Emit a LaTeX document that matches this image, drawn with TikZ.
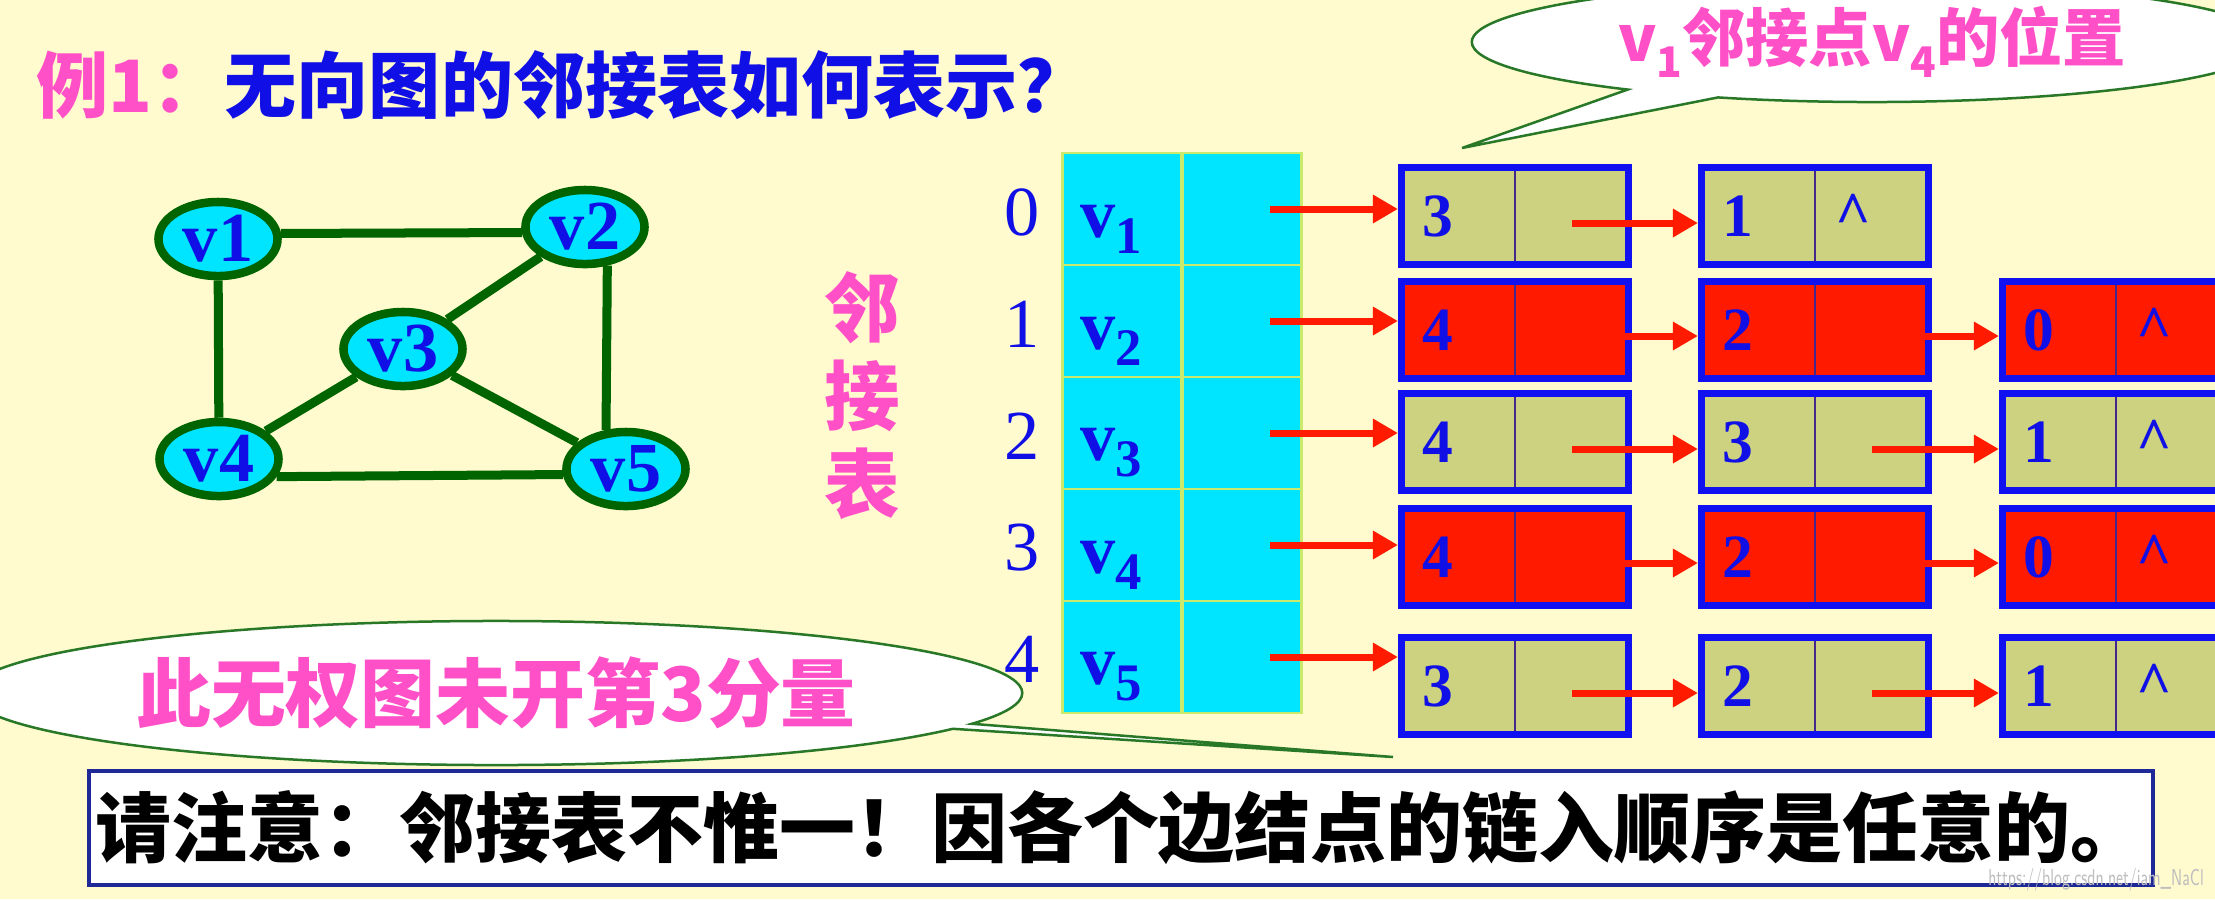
\documentclass[tikz,border=0pt]{standalone}
\usepackage{fontspec}
\setmainfont{Liberation Serif}
\newfontfamily\cjk{Noto Sans CJK SC}
\usetikzlibrary{arrows.meta,shapes.geometric,shapes.callouts,calc}

\definecolor{bgyellow}{RGB}{255,251,206}
\definecolor{cellcyan}{RGB}{0,229,255}
\definecolor{khaki}{RGB}{204,210,128}
\definecolor{hotred}{RGB}{255,26,0}
\definecolor{txtblue}{RGB}{16,16,230}
\definecolor{boxblue}{RGB}{16,16,240}
\definecolor{darkgreen}{RGB}{0,100,0}
\definecolor{notepink}{RGB}{255,80,200}
\definecolor{linegreen}{RGB}{40,120,40}
\definecolor{navy}{RGB}{30,40,150}
\definecolor{tabline}{RGB}{200,235,110}
\definecolor{divcolor}{RGB}{70,40,140}
\definecolor{markgray}{RGB}{190,190,190}

\newcommand{\vsub}[1]{v\raisebox{-0.5ex}{\fontsize{15}{15}\selectfont #1}}
\newcommand{\psub}[1]{v\raisebox{-0.45ex}{\fontsize{12}{12}\selectfont #1}}
\newcommand{\listnode}[5]{%
  \node[lbox, fill=#4] (#1) at (#2,#3) {};
  \draw[divline] (#1.north) -- (#1.south);
  \node[numtxt] (#1n) at ([xshift=-0.77cm]#1.center) {#5};}
\newcommand{\nullptr}[1]{%
  \node[numtxt] (#1e) at ([xshift=0.38cm,yshift=0.02cm]#1.center) {\textasciicircum};}

\begin{document}
\begin{tikzpicture}[x=0.01cm,y=-0.01cm]
  \tikzset{
    vertex/.style={ellipse, draw=darkgreen, line width=0.085cm, fill=cellcyan,
      minimum width=1.19cm, minimum height=0.74cm, inner sep=0pt,
      text=txtblue, font=\fontsize{20}{20}\selectfont\bfseries},
    gedge/.style={darkgreen, line width=0.09cm},
    vcell/.style={rectangle, draw=tabline, line width=0.025cm, fill=cellcyan,
      minimum width=1.19cm, minimum height=1.12cm, inner sep=0pt},
    idx/.style={text=txtblue, font=\fontsize{20}{20}\selectfont, inner sep=0pt},
    vname/.style={text=txtblue, font=\fontsize{20}{20}\selectfont\bfseries, inner sep=0pt},
    lbox/.style={rectangle, draw=boxblue, line width=0.07cm,
      minimum width=2.27cm, minimum height=0.96cm, inner sep=0pt},
    divline/.style={divcolor, line width=0.02cm, shorten <=0.07cm, shorten >=0.07cm},
    numtxt/.style={text=txtblue, font=\fontsize{17.5}{17.5}\selectfont\bfseries, inner sep=0pt},
    link/.style={hotred, line width=0.07cm, -{Triangle[length=0.25cm,width=0.27cm]}},
    bubble/.style={ellipse callout, draw=linegreen, line width=0.025cm, fill=white,
      inner sep=0pt, text=notepink}
  }
  \useasboundingbox (0,0) rectangle (2215,899);
  \clip (0,0) rectangle (2215,899);
  \fill[bgyellow] (0,0) rectangle (2215,899);

  \node[anchor=west, inner sep=0pt, text=txtblue, font=\cjk\bfseries\fontsize{20.5}{20.5}\selectfont]
    (title) at (36,85) {\textcolor{notepink}{例1：}无向图的邻接表如何表示？};

  \node[vertex] (v1) at (218,239) {v1};
  \node[vertex] (v2) at (585,227) {v2};
  \node[vertex] (v3) at (403,349) {v3};
  \node[vertex] (v4) at (219,459) {v4};
  \node[vertex] (v5) at (626,469) {v5};
  \draw[gedge] (v1.5) -- (v2.185);
  \draw[gedge] (v1) -- (v4);
  \draw[gedge] (v2) -- (v3);
  \draw[gedge] (v2.-60) -- (v5.117);
  \draw[gedge] (v3) -- (v4);
  \draw[gedge] (v3) -- (v5);
  \draw[gedge] (v4.-17) -- (v5.185);

  \node[text=notepink, font=\cjk\bfseries\fontsize{21.5}{25}\selectfont, align=center, inner sep=0pt]
    (adjname) at (862,396) {邻\\接\\表};

  \node[vcell] (h0) at (1122,209) {};
  \node[vcell] (p0) at (1242,209) {};
  \node[vcell] (h1) at (1122,321) {};
  \node[vcell] (p1) at (1242,321) {};
  \node[vcell] (h2) at (1122,433) {};
  \node[vcell] (p2) at (1242,433) {};
  \node[vcell] (h3) at (1122,545) {};
  \node[vcell] (p3) at (1242,545) {};
  \node[vcell] (h4) at (1122,657) {};
  \node[vcell] (p4) at (1242,657) {};
  \node[vname] (n0) at (1111,229) {\vsub{1}};
  \node[vname] (n1) at (1111,341) {\vsub{2}};
  \node[vname] (n2) at (1111,453) {\vsub{3}};
  \node[vname] (n3) at (1111,565) {\vsub{4}};
  \node[vname] (n4) at (1111,677) {\vsub{5}};
  \node[idx] (i0) at (1022,212) {0};
  \node[idx] (i1) at (1022,324) {1};
  \node[idx] (i2) at (1022,436) {2};
  \node[idx] (i3) at (1022,548) {3};
  \node[idx] (i4) at (1022,659) {4};

  \listnode{a0}{1515}{216}{khaki}{3}
  \listnode{b0}{1815}{216}{khaki}{1}
  \nullptr{b0}
  \listnode{a1}{1515}{330}{hotred}{4}
  \listnode{b1}{1815}{330}{hotred}{2}
  \listnode{c1}{2116}{330}{hotred}{0}
  \nullptr{c1}
  \listnode{a2}{1515}{442}{khaki}{4}
  \listnode{b2}{1815}{442}{khaki}{3}
  \listnode{c2}{2116}{442}{khaki}{1}
  \nullptr{c2}
  \listnode{a3}{1515}{557}{hotred}{4}
  \listnode{b3}{1815}{557}{hotred}{2}
  \listnode{c3}{2116}{557}{hotred}{0}
  \nullptr{c3}
  \listnode{a4}{1515}{686}{khaki}{3}
  \listnode{b4}{1815}{686}{khaki}{2}
  \listnode{c4}{2116}{686}{khaki}{1}
  \nullptr{c4}

  \draw[link] ([xshift=0.28cm]p0.center) -- (p0.center -| a0.west);
  \draw[link] ([xshift=0.28cm]p1.center) -- (p1.center -| a1.west);
  \draw[link] ([xshift=0.28cm]p2.center) -- (p2.center -| a2.west);
  \draw[link] ([xshift=0.28cm]p3.center) -- (p3.center -| a3.west);
  \draw[link] ([xshift=0.28cm]p4.center) -- (p4.center -| a4.west);
  \draw[link] ([xshift=0.57cm,yshift=-0.07cm]a0.center) -- ([yshift=-0.07cm]b0.west);
  \draw[link] ([xshift=-0.07cm,yshift=-0.06cm]a1.east) -- ([yshift=-0.06cm]b1.west);
  \draw[link] ([xshift=-0.07cm,yshift=-0.06cm]b1.east) -- ([yshift=-0.06cm]c1.west);
  \draw[link] ([xshift=0.57cm,yshift=-0.07cm]a2.center) -- ([yshift=-0.07cm]b2.west);
  \draw[link] ([xshift=0.57cm,yshift=-0.07cm]b2.center) -- ([yshift=-0.07cm]c2.west);
  \draw[link] ([xshift=-0.07cm,yshift=-0.06cm]a3.east) -- ([yshift=-0.06cm]b3.west);
  \draw[link] ([xshift=-0.07cm,yshift=-0.06cm]b3.east) -- ([yshift=-0.06cm]c3.west);
  \draw[link] ([xshift=0.57cm,yshift=-0.07cm]a4.center) -- ([yshift=-0.07cm]b4.west);
  \draw[link] ([xshift=0.57cm,yshift=-0.07cm]b4.center) -- ([yshift=-0.07cm]c4.west);

  \node[bubble, minimum width=8cm, minimum height=1.2cm,
    callout absolute pointer={(1462,148)},
    font=\cjk\bfseries\fontsize{18}{18}\selectfont]
    (tip1) at (1872,42) {\psub{1}邻接点\psub{4}的位置};
  \node[bubble, minimum width=10.52cm, minimum height=1.44cm,
    callout absolute pointer={(1393,757)}, callout pointer arc=4.5,
    font=\cjk\bfseries\fontsize{21.3}{21.3}\selectfont]
    (tip2) at (496,693) {此无权图未开第3分量};

  \node[draw=navy, line width=0.04cm, fill=white, minimum width=20.62cm, minimum height=1.13cm,
    inner sep=0pt, font=\cjk\bfseries\fontsize{21.6}{21.6}\selectfont]
    (note) at (1121,828) {请注意：邻接表不惟一！因各个边结点的链入顺序是任意的。\hspace{0.46cm}};
  \node[text=markgray, font=\sffamily\fontsize{6.5}{6.5}\selectfont, inner sep=0pt]
    (mark) at (2096,880) {\scalebox{0.65}[1]{https://blog.csdn.net/iam\_NaCl}};
\end{tikzpicture}
\end{document}
